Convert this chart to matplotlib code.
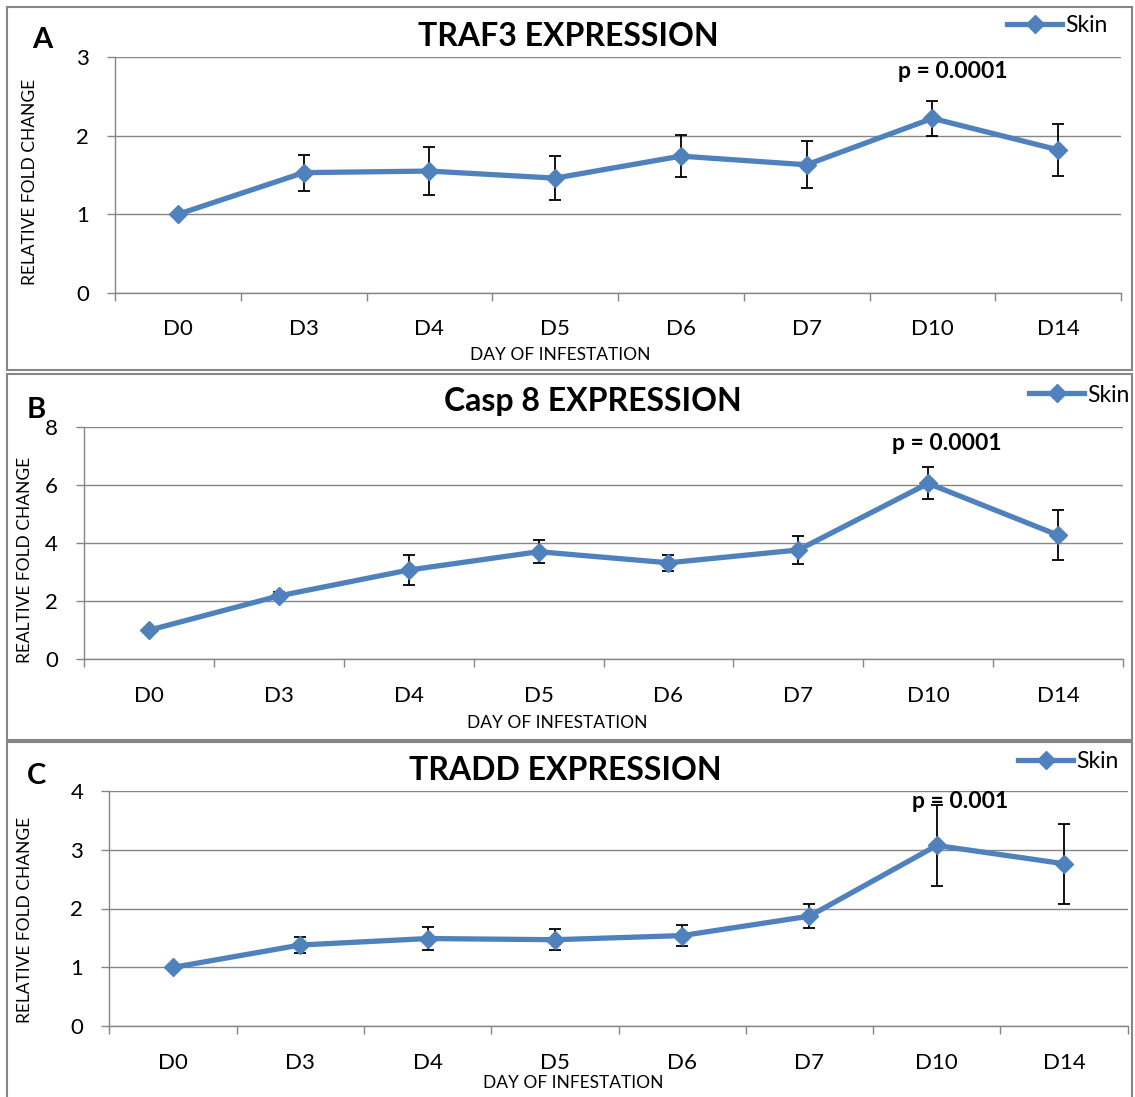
import matplotlib
matplotlib.use('Agg')
import matplotlib.pyplot as plt
from matplotlib.patches import Rectangle
from matplotlib.lines import Line2D
from matplotlib.ticker import FixedLocator, MultipleLocator

plt.rcParams['font.family'] = ['Lato', 'DejaVu Sans']

days = ['D0', 'D3', 'D4', 'D5', 'D6', 'D7', 'D10', 'D14']

traf3_mean = [1.00, 1.53, 1.55, 1.46, 1.74, 1.63, 2.22, 1.82]
traf3_err = [0.00, 0.23, 0.31, 0.28, 0.27, 0.30, 0.22, 0.33]

casp8_mean = [1.00, 2.18, 3.07, 3.70, 3.32, 3.76, 6.05, 4.27]
casp8_err = [0.00, 0.12, 0.52, 0.40, 0.28, 0.48, 0.55, 0.87]

tradd_mean = [1.00, 1.38, 1.49, 1.47, 1.54, 1.87, 3.07, 2.76]
tradd_err = [0.00, 0.14, 0.20, 0.18, 0.18, 0.20, 0.68, 0.68]

titles = ['TRAF3 EXPRESSION', 'Casp 8 EXPRESSION', 'TRADD EXPRESSION']
letters = ['A', 'B', 'C']
ylabels = ['RELATIVE FOLD CHANGE', 'REALTIVE FOLD CHANGE', 'RELATIVE FOLD CHANGE']
xlabel = 'DAY OF INFESTATION'
ymax = [3, 8, 4]
ystep = [1, 2, 1]
p_texts = ['p = 0.0001', 'p = 0.0001', 'p = 0.001']
p_pos = [(6.16, 2.81), (6.14, 7.43), (6.18, 3.82)]
legend_label = 'Skin'

BLUE = '#4F81BD'
GRAY = '#868686'
W, H = 1135, 1097


def fx(x):
    return x / W


def fy(y):
    return 1 - y / H


# pixel layout of each panel
plot_box = [(115, 1121, 57, 293), (84, 1123, 426.7, 659.3), (109.3, 1127.7, 790.7, 1026.3)]
frame_box = [(7, 1132, 7, 370), (7, 1132, 374, 740), (7, 1132, 742, 1105)]
title_xy = [(568, 37), (593, 402), (565, 770)]
letter_xy = [(42, 40), (36, 410), (36, 776)]
ylabel_xy = [(30, 182), (25, 560), (25, 920)]
xlabel_xy = [(560, 355), (557, 723), (573, 1083)]
legend_xy = [(1007, 26), (1029, 395), (1018, 762)]

fig = plt.figure(figsize=(W / 100, H / 100), dpi=100)

means = [traf3_mean, casp8_mean, tradd_mean]
errs = [traf3_err, casp8_err, tradd_err]

for i in range(3):
    # panel frame
    l, r, t, b = frame_box[i]
    fig.patches.append(Rectangle((fx(l), fy(b)), fx(r - l), (b - t) / H,
                                 transform=fig.transFigure, fill=False,
                                 edgecolor=GRAY, lw=1.5))

    x0, x1, yt, yb = plot_box[i]
    ax = fig.add_axes([fx(x0), fy(yb), fx(x1 - x0), (yb - yt) / H])
    x = list(range(len(days)))

    ax.errorbar(x, means[i], yerr=errs[i], fmt='none', ecolor='black',
                elinewidth=1.3, capsize=4.5, capthick=1.3, zorder=3)
    ax.plot(x, means[i], color=BLUE, lw=3.8, marker='D', markersize=9.5,
            markerfacecolor=BLUE, markeredgecolor=BLUE, zorder=4, clip_on=False)

    ax.set_xlim(-0.5, len(days) - 0.5)
    ax.set_ylim(0, ymax[i])
    ax.yaxis.set_major_locator(MultipleLocator(ystep[i]))
    ax.set_xticks(x)
    ax.set_xticklabels(days)
    ax.xaxis.set_minor_locator(FixedLocator([k - 0.5 for k in range(len(days) + 1)]))
    ax.tick_params(axis='x', which='major', length=0, pad=19, labelsize=16)
    ax.tick_params(axis='x', which='minor', length=5.8, width=1, color=GRAY, direction='out')
    ax.tick_params(axis='y', length=5.8, width=1, color=GRAY, pad=13, labelsize=16)

    ax.yaxis.grid(True, color=GRAY, lw=1)
    ax.set_axisbelow(True)
    for side in ['top', 'right']:
        ax.spines[side].set_visible(False)
    for side in ['left', 'bottom']:
        ax.spines[side].set_color(GRAY)
        ax.spines[side].set_linewidth(1)

    ax.text(p_pos[i][0], p_pos[i][1], p_texts[i], ha='center', va='center',
            fontsize=16.5, fontweight='bold', zorder=5)

    fig.text(fx(title_xy[i][0]), fy(title_xy[i][1]), titles[i], ha='center',
             va='center', fontsize=23, fontweight='bold')
    fig.text(fx(letter_xy[i][0]), fy(letter_xy[i][1]), letters[i], ha='center',
             va='center', fontsize=21, fontweight='bold')
    fig.text(fx(ylabel_xy[i][0]), fy(ylabel_xy[i][1]), ylabels[i], ha='center',
             va='center', rotation=90, fontsize=12.5)
    fig.text(fx(xlabel_xy[i][0]), fy(xlabel_xy[i][1]), xlabel, ha='center',
             va='center', fontsize=12.5)

    handle = Line2D([], [], color=BLUE, lw=3.8, marker='D', markersize=9.5)
    ax.legend([handle], [legend_label], loc='center left',
              bbox_to_anchor=(fx(legend_xy[i][0]), fy(legend_xy[i][1])),
              bbox_transform=fig.transFigure, frameon=False, fontsize=16.5,
              handlelength=2.4, handletextpad=0.15, borderpad=0, borderaxespad=0)

fig.savefig('out.png', dpi=100)
